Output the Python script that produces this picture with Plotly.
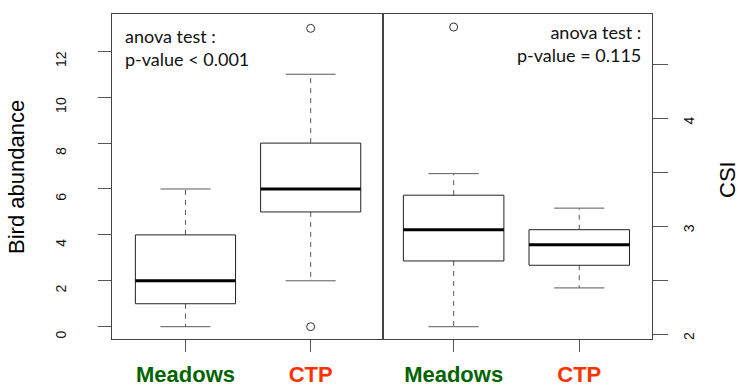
import plotly.graph_objects as go

# ---------------- data ----------------
categories = ["Meadows", "CTP"]
category_colors = ["#006400", "#FF3300"]
positions = [1, 2]

# Bird abundance (left panel)
abund_lower = [0, 2]
abund_q1 = [1, 5]
abund_median = [2, 6]
abund_q3 = [4, 8]
abund_upper = [6, 11]
abund_outliers = [[], [0, 13]]
abund_ticks = [0, 2, 4, 6, 8, 10, 12]

# CSI (right panel)
csi_lower = [2.07, 2.43]
csi_q1 = [2.68, 2.64]
csi_median = [2.97, 2.83]
csi_q3 = [3.29, 2.97]
csi_upper = [3.49, 3.17]
csi_outliers = [[4.85], []]
csi_ticks = [2, 2.5, 3, 3.5, 4, 4.5]
csi_ticklabels = ["2", "", "3", "", "4", ""]

left_note = "anova test :<br>p-value < 0.001"
right_note = "anova test :<br>p-value = 0.115"

# ---------------- style ----------------
BOX_HALF = 0.4
CAP_HALF = 0.2
AX_FONT = "Liberation Sans, Arial, sans-serif"
NOTE_FONT = "Lato, Carlito, sans-serif"
FRAME = "#444444"
WHISK = "#5a5a5a"

fig = go.Figure()


def add_boxes(xa, ya, lower, q1, med, q3, upper, outliers):
    bx, by, mx, my, wx, wy, cx, cy, ox, oy = [], [], [], [], [], [], [], [], [], []
    for p, lo, a, m, b, hi, outs in zip(positions, lower, q1, med, q3, upper, outliers):
        bx += [p - BOX_HALF, p + BOX_HALF, p + BOX_HALF, p - BOX_HALF, p - BOX_HALF, None]
        by += [a, a, b, b, a, None]
        mx += [p - BOX_HALF, p + BOX_HALF, None]
        my += [m, m, None]
        wx += [p, p, None, p, p, None]
        wy += [b, hi, None, a, lo, None]
        cx += [p - CAP_HALF, p + CAP_HALF, None, p - CAP_HALF, p + CAP_HALF, None]
        cy += [hi, hi, None, lo, lo, None]
        for o in outs:
            ox.append(p)
            oy.append(o)
    common = dict(xaxis=xa, yaxis=ya, showlegend=False, hoverinfo="skip")
    fig.add_trace(go.Scatter(x=wx, y=wy, mode="lines",
                             line=dict(color=WHISK, width=1, dash="5px,5px"), **common))
    fig.add_trace(go.Scatter(x=cx, y=cy, mode="lines",
                             line=dict(color=WHISK, width=1), **common))
    fig.add_trace(go.Scatter(x=bx, y=by, mode="lines",
                             line=dict(color="#222222", width=1), **common))
    fig.add_trace(go.Scatter(x=mx, y=my, mode="lines",
                             line=dict(color="black", width=3), **common))
    fig.add_trace(go.Scatter(x=ox, y=oy, mode="markers",
                             marker=dict(symbol="circle-open", size=8,
                                         color="#333333", line=dict(width=1)), **common))


add_boxes("x", "y", abund_lower, abund_q1, abund_median, abund_q3, abund_upper, abund_outliers)
add_boxes("x2", "y2", csi_lower, csi_q1, csi_median, csi_q3, csi_upper, csi_outliers)

ticktext = [f"<b><span style='color:{c}'>{t}</span></b>" for t, c in zip(categories, category_colors)]

xbase = dict(tickvals=positions, ticktext=ticktext, ticks="outside", ticklen=12,
             tickcolor="#555555", showline=True, mirror=True, linecolor=FRAME, linewidth=1,
             showgrid=False, zeroline=False, fixedrange=True,
             tickfont=dict(family=AX_FONT, size=22), ticklabelstandoff=4)
ybase = dict(ticks="outside", tickcolor="#555555", showline=True, mirror=True,
             linecolor=FRAME, linewidth=1, showgrid=False, zeroline=False, fixedrange=True,
             tickangle=-90, tickfont=dict(family=AX_FONT, size=14, color="#111111"))

ydom = [0.1263, 0.9639]
fig.update_layout(
    width=746, height=388,
    margin=dict(l=0, r=0, t=0, b=0),
    paper_bgcolor="white", plot_bgcolor="white",
    xaxis=dict(domain=[0.1501, 0.5138], range=[0.413, 2.58], anchor="y", **xbase),
    yaxis=dict(domain=ydom, range=[-0.536, 13.625], anchor="x", tickvals=abund_ticks,
               ticklen=13, ticklabelstandoff=26, ticklabelshift=10, **ybase),
    xaxis2=dict(domain=[0.5138, 0.874], range=[0.44, 2.579], anchor="y2", **xbase),
    yaxis2=dict(domain=ydom, range=[1.956, 4.971], anchor="x2", side="right",
                tickvals=csi_ticks, ticktext=csi_ticklabels,
                ticklen=15, ticklabelstandoff=9, ticklabelshift=4, **ybase),
)

fig.add_annotation(text="Bird abundance", xref="paper", yref="paper",
                   x=17 / 746, y=1 - 177 / 388, xanchor="center", yanchor="middle",
                   textangle=-90, showarrow=False,
                   font=dict(family=AX_FONT, size=22, color="black"))
fig.add_annotation(text="CSI", xref="paper", yref="paper",
                   x=727 / 746, y=1 - 180 / 388, xanchor="center", yanchor="middle",
                   textangle=-90, showarrow=False,
                   font=dict(family=AX_FONT, size=22, color="black"))

fig.add_annotation(text=left_note, xref="x domain", yref="y domain",
                   x=0.04, y=0.898, xanchor="left", yanchor="middle", align="left",
                   showarrow=False, font=dict(family=NOTE_FONT, size=18, color="#111111"))
fig.add_annotation(text=right_note, xref="x2 domain", yref="y2 domain",
                   x=0.966, y=0.908, xanchor="right", yanchor="middle", align="right",
                   showarrow=False, font=dict(family=NOTE_FONT, size=18, color="#111111"))

fig.write_html("out.html", config={"displayModeBar": False},
               post_script="document.body.style.margin='0';")
